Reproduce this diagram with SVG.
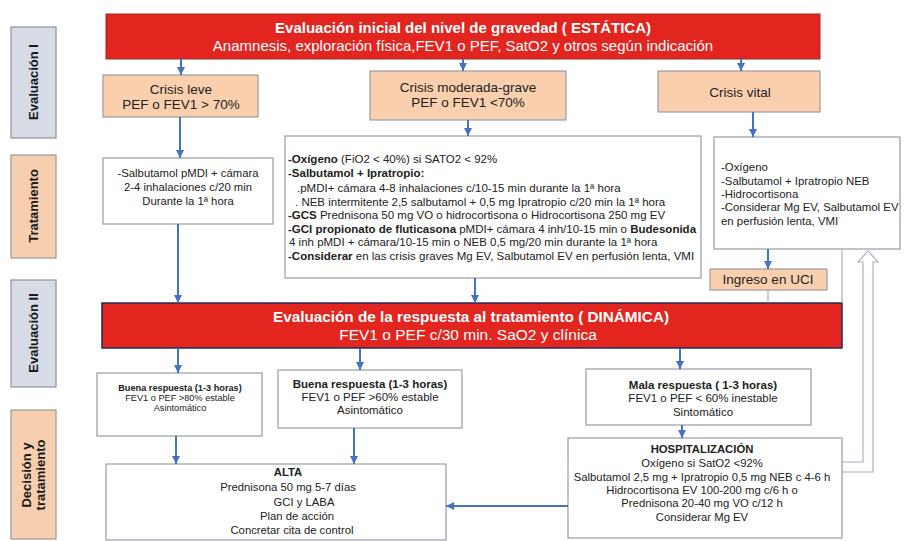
<svg xmlns="http://www.w3.org/2000/svg" width="906" height="541" viewBox="0 0 906 541">
  <defs>
    <marker id="ah" viewBox="0 0 10 10" refX="10" refY="5" markerWidth="8" markerHeight="8" markerUnits="userSpaceOnUse" orient="auto">
      <path d="M0,0 L10,5 L0,10 z" fill="#4472c4"/>
    </marker>
    <style>
      text { font-family: "Liberation Sans", Arial, sans-serif; fill: #222; }
      .lab { fill: #d6dbe6; stroke: #8e939c; stroke-width: 1.2; }
      .labp { fill: #f8cfae; stroke: #9a9a9a; stroke-width: 1.2; }
      .labt { font-size: 13px; font-weight: bold; text-anchor: middle; fill: #1a1a1a; }
      .red { fill: #e3251f; }
      .peach { fill: #f9cfae; stroke: #9c9c9c; stroke-width: 1.2; }
      .box { fill: #fff; stroke: #9a9ca4; stroke-width: 1.2; }
      .wt { fill: #fff; text-anchor: middle; }
      .c { text-anchor: middle; }
      .b { font-weight: bold; }
      .arr { stroke: #4472c4; stroke-width: 2; fill: none; marker-end: url(#ah); }
      .thin { stroke: #a3aabb; stroke-width: 1.1; fill: none; }
    </style>
  </defs>
  <rect width="906" height="541" fill="#fff"/>

  <!-- side phase labels -->
  <g id="lab-eval1">
    <rect class="lab" x="11" y="27" width="45" height="111"/>
    <text class="labt" transform="translate(38,82) rotate(-90)">Evaluación I</text>
  </g>
  <g id="lab-trat">
    <rect class="labp" x="11" y="155" width="45" height="103"/>
    <text class="labt" transform="translate(38,206) rotate(-90)">Tratamiento</text>
  </g>
  <g id="lab-eval2">
    <rect class="lab" x="11" y="280" width="45" height="107"/>
    <text class="labt" transform="translate(38,333) rotate(-90)">Evaluación II</text>
  </g>
  <g id="lab-decision">
    <rect class="labp" x="11" y="410" width="45" height="129"/>
    <text class="labt" transform="translate(31,475) rotate(-90)">Decisión y</text>
    <text class="labt" transform="translate(45,475) rotate(-90)">tratamiento</text>
  </g>

  <!-- initial static assessment -->
  <g id="eval-inicial">
    <rect class="red" x="106" y="14" width="714" height="45" stroke="#9b2a26" stroke-width="1"/>
    <text class="wt b" x="463" y="33" font-size="15">Evaluación inicial del nivel de gravedad ( ESTÁTICA)</text>
    <text class="wt" x="463" y="51" font-size="15">Anamnesis, exploración física,FEV1 o PEF, SatO2 y otros según indicación</text>
  </g>

  <g id="crisis-leve">
    <rect class="peach" x="103" y="75" width="155" height="42"/>
    <text class="c" x="181" y="94" font-size="13.5">Crisis leve</text>
    <text class="c" x="181" y="109" font-size="13.5">PEF o FEV1 &gt; 70%</text>
  </g>
  <g id="crisis-moderada">
    <rect class="peach" x="370" y="71" width="196" height="49"/>
    <text class="c" x="468" y="92" font-size="13.5">Crisis moderada-grave</text>
    <text class="c" x="468" y="107" font-size="13.5">PEF o FEV1 &lt;70%</text>
  </g>
  <g id="crisis-vital">
    <rect class="peach" x="658" y="71" width="162" height="41"/>
    <text class="c" x="740" y="97" font-size="13.5">Crisis vital</text>
  </g>

  <!-- treatments -->
  <g id="trat-leve" font-size="11.3">
    <rect class="box" x="103" y="158" width="170" height="66"/>
    <text class="c" x="188" y="177">-Salbutamol pMDI + cámara</text>
    <text class="c" x="188" y="191">2-4 inhalaciones c/20 min</text>
    <text class="c" x="188" y="205">Durante la 1ª hora</text>
  </g>
  <g id="trat-moderada" font-size="11.5">
    <rect class="box" x="285" y="136" width="416" height="142"/>
    <text x="288" y="163"><tspan class="b">-Oxígeno</tspan> (FiO2 &lt; 40%) si SATO2 &lt; 92%</text>
    <text x="288" y="177" class="b">-Salbutamol + Ipratropio:</text>
    <text x="297" y="192">.pMDI+ cámara 4-8 inhalaciones c/10-15  min durante la 1ª hora</text>
    <text x="295" y="206">. NEB intermitente 2,5  salbutamol + 0,5 mg Ipratropio c/20 min la 1ª hora</text>
    <text x="288" y="219"><tspan class="b">-GCS</tspan> Prednisona 50 mg VO o hidrocortisona o Hidrocortisona 250 mg EV</text>
    <text x="288" y="233"><tspan class="b">-GCI  propionato de fluticasona</tspan> pMDI+ cámara 4 inh/10-15 min o <tspan class="b">Budesonida</tspan></text>
    <text x="289" y="246">4 inh pMDI + cámara/10-15 min o NEB  0,5 mg/20 min durante la 1ª hora</text>
    <text x="288" y="260"><tspan class="b">-Considerar</tspan>  en las crisis graves Mg EV, Salbutamol EV en perfusión lenta, VMI</text>
  </g>
  <g id="trat-vital" font-size="11.4">
    <rect class="box" x="714" y="137" width="186" height="112"/>
    <text x="721" y="171">-Oxígeno</text>
    <text x="721" y="185">-Salbutamol + Ipratropio NEB</text>
    <text x="721" y="198">-Hidrocortisona</text>
    <text x="721" y="211">-Considerar Mg EV, Salbutamol EV</text>
    <text x="721" y="225">en perfusión lenta, VMI</text>
  </g>
  <g id="uci">
    <rect class="peach" x="710" y="269" width="117" height="21"/>
    <text class="c" x="768" y="284" font-size="13.5">Ingreso en UCI</text>
  </g>

  <!-- dynamic reassessment -->
  <g id="eval-respuesta">
    <rect class="red" x="102" y="303" width="740" height="45" stroke="#252a55" stroke-width="1.5"/>
    <text class="wt b" x="471" y="322" font-size="15.3">Evaluación de la respuesta al tratamiento ( DINÁMICA)</text>
    <text class="wt" x="468" y="340" font-size="15.5">FEV1 o PEF c/30 min. SaO2 y clínica</text>
  </g>

  <!-- responses -->
  <g id="buena-80" font-size="9.2">
    <rect class="box" x="97" y="373" width="165" height="63"/>
    <text class="c b" x="180" y="391">Buena respuesta (1-3 horas)</text>
    <text class="c" x="180" y="401">FEV1 o PEF &gt;80% estable</text>
    <text class="c" x="180" y="411">Asintomático</text>
  </g>
  <g id="buena-60" font-size="11.5">
    <rect class="box" x="278" y="370" width="184" height="58"/>
    <text class="c b" x="370" y="388">Buena respuesta (1-3 horas)</text>
    <text class="c" x="370" y="401">FEV1 o PEF &gt;60% estable</text>
    <text class="c" x="370" y="414">Asintomático</text>
  </g>
  <g id="mala" font-size="11.5">
    <rect class="box" x="586" y="369" width="225" height="56"/>
    <text class="c b" x="703" y="389">Mala respuesta ( 1-3 horas)</text>
    <text class="c" x="703" y="402">FEV1 o PEF  &lt; 60% inestable</text>
    <text class="c" x="703" y="416">Sintomático</text>
  </g>

  <!-- decisions -->
  <g id="alta" font-size="11.3">
    <rect class="box" x="106" y="464" width="340" height="76"/>
    <text class="c b" x="288" y="476">ALTA</text>
    <text class="c" x="288" y="491">Prednisona 50 mg 5-7 días</text>
    <text class="c" x="304" y="506">GCI y LABA</text>
    <text class="c" x="297" y="520">Plan de acción</text>
    <text class="c" x="292" y="534">Concretar cita de control</text>
  </g>
  <g id="hospitalizacion" font-size="11.3">
    <rect class="box" x="568" y="438" width="274" height="100"/>
    <text class="c b" x="702" y="453">HOSPITALIZACIÓN</text>
    <text class="c" x="702" y="467">Oxígeno si SatO2 &lt;92%</text>
    <text class="c" x="702" y="481">Salbutamol 2,5 mg + Ipratropio 0,5 mg NEB c 4-6 h</text>
    <text class="c" x="702" y="494">Hidrocortisona EV 100-200 mg c/6 h o</text>
    <text class="c" x="702" y="507">Prednisona 20-40 mg VO c/12 h</text>
    <text class="c" x="702" y="521">Considerar Mg EV</text>
  </g>

  <!-- connectors -->
  <g id="connectors">
    <line class="arr" x1="181" y1="59" x2="181" y2="75"/>
    <line class="arr" x1="463" y1="59" x2="463" y2="71"/>
    <line class="arr" x1="741" y1="59" x2="741" y2="71"/>
    <line class="arr" x1="180" y1="117" x2="180" y2="158"/>
    <line class="arr" x1="468" y1="120" x2="468" y2="136"/>
    <line class="arr" x1="753" y1="112" x2="753" y2="137"/>
    <line class="arr" x1="178" y1="224" x2="178" y2="303"/>
    <line class="arr" x1="475" y1="278" x2="475" y2="303"/>
    <line class="arr" x1="768" y1="249" x2="768" y2="269"/>
    <line x1="768" y1="290" x2="768" y2="303" stroke="#8ea0c8" stroke-width="1"/>
    <line class="arr" x1="178" y1="348" x2="178" y2="373"/>
    <line class="arr" x1="360" y1="348" x2="360" y2="370"/>
    <line class="arr" x1="680" y1="348" x2="680" y2="369"/>
    <line class="arr" x1="176" y1="436" x2="176" y2="464"/>
    <line class="arr" x1="354" y1="428" x2="354" y2="464"/>
    <line class="arr" x1="682" y1="425" x2="682" y2="438"/>
    <line class="arr" x1="568" y1="506" x2="446" y2="506"/>
    <line class="thin" x1="842" y1="249" x2="842" y2="303"/>
    <path class="thin" fill="#fff" d="M842,462 H863 V262 H858 L868,251 L878,262 H873 V472 H842"/>
  </g>
</svg>
